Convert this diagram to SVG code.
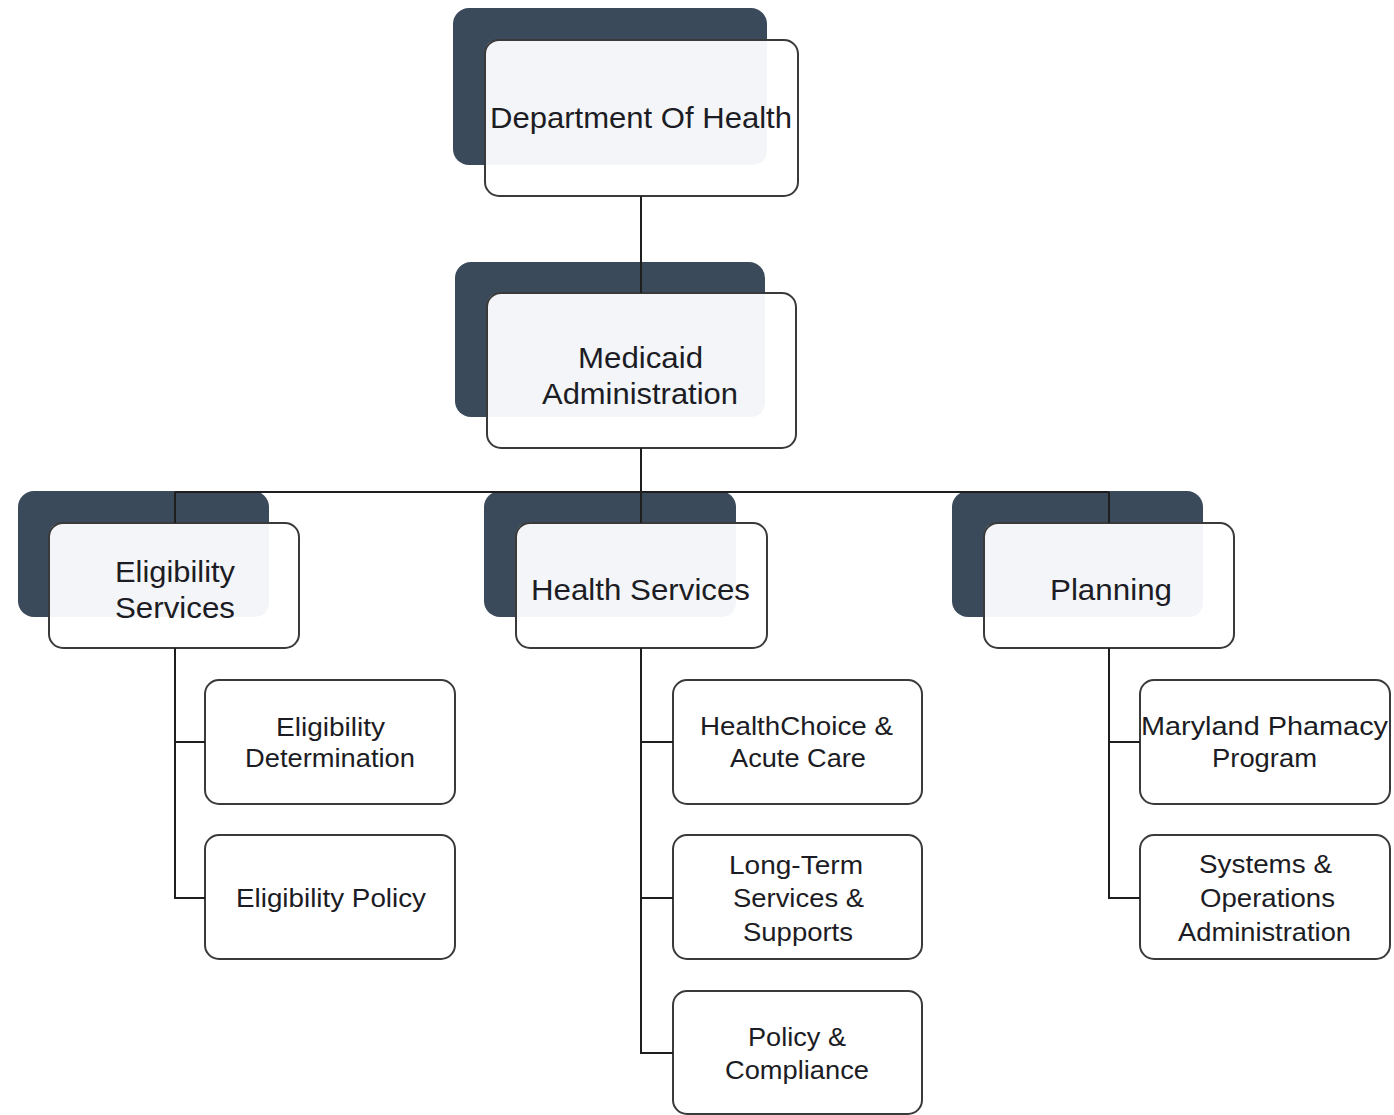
<svg xmlns="http://www.w3.org/2000/svg" width="1394" height="1115" viewBox="0 0 1394 1115">
<style>
.shadow{fill:#3b4a5b;}
.face{fill:#ffffff;}
.tint{fill:#f3f5f8;}
.edge{fill:none;stroke:#3a3a3a;stroke-width:2;}
.lbl{font-family:"Liberation Sans",Arial,sans-serif;fill:#1c1c24;text-anchor:middle;}
.big{font-size:30px;}
.small{font-size:26.5px;}
.conn{fill:none;stroke:#1e1e1e;stroke-width:2;}
</style>
<rect width="1394" height="1115" fill="#ffffff"/>

<g id="node-department">
<rect class="shadow" x="453" y="8" width="314" height="157" rx="16"/>
<rect class="face" x="485" y="40" width="313" height="156" rx="14"/>
<path class="tint" d="M499 40 H767 V149 Q767 165 751 165 H485 V54 Q485 40 499 40 Z"/>
<rect class="edge" x="485" y="40" width="313" height="156" rx="14"/>
<text class="lbl big" x="641" y="128" textLength="302" lengthAdjust="spacingAndGlyphs">Department Of Health</text>
</g>

<g id="node-medicaid">
<rect class="shadow" x="455" y="262" width="310" height="155" rx="16"/>
<rect class="face" x="487" y="293" width="309" height="155" rx="14"/>
<path class="tint" d="M501 293 H765 V401 Q765 417 749 417 H487 V307 Q487 293 501 293 Z"/>
<rect class="edge" x="487" y="293" width="309" height="155" rx="14"/>
<text class="lbl big" x="640.5" y="368" textLength="125" lengthAdjust="spacingAndGlyphs">Medicaid</text>
<text class="lbl big" x="640" y="404" textLength="196" lengthAdjust="spacingAndGlyphs">Administration</text>
</g>

<g id="node-eligibility-services">
<rect class="shadow" x="18" y="491" width="251" height="126" rx="16"/>
<rect class="face" x="49" y="523" width="250" height="125" rx="14"/>
<path class="tint" d="M63 523 H269 V601 Q269 617 253 617 H49 V537 Q49 523 63 523 Z"/>
<rect class="edge" x="49" y="523" width="250" height="125" rx="14"/>
<text class="lbl big" x="175" y="582" textLength="120" lengthAdjust="spacingAndGlyphs">Eligibility</text>
<text class="lbl big" x="175" y="618" textLength="120" lengthAdjust="spacingAndGlyphs">Services</text>
</g>

<g id="node-health-services">
<rect class="shadow" x="484" y="491" width="252" height="126" rx="16"/>
<rect class="face" x="516" y="523" width="251" height="125" rx="14"/>
<path class="tint" d="M530 523 H736 V601 Q736 617 720 617 H516 V537 Q516 523 530 523 Z"/>
<rect class="edge" x="516" y="523" width="251" height="125" rx="14"/>
<text class="lbl big" x="640.5" y="600" textLength="219" lengthAdjust="spacingAndGlyphs">Health Services</text>
</g>

<g id="node-planning">
<rect class="shadow" x="952" y="491" width="251" height="126" rx="16"/>
<rect class="face" x="984" y="523" width="250" height="125" rx="14"/>
<path class="tint" d="M998 523 H1203 V601 Q1203 617 1187 617 H984 V537 Q984 523 998 523 Z"/>
<rect class="edge" x="984" y="523" width="250" height="125" rx="14"/>
<text class="lbl big" x="1111" y="600" textLength="122" lengthAdjust="spacingAndGlyphs">Planning</text>
</g>

<g id="node-eligibility-determination">
<rect class="face edge" x="205" y="680" width="250" height="124" rx="14" style="fill:#fff"/>
<text class="lbl small" x="330.5" y="736" textLength="109" lengthAdjust="spacingAndGlyphs">Eligibility</text>
<text class="lbl small" x="330" y="767" textLength="170" lengthAdjust="spacingAndGlyphs">Determination</text>
</g>

<g id="node-eligibility-policy">
<rect class="face edge" x="205" y="835" width="250" height="124" rx="14" style="fill:#fff"/>
<text class="lbl small" x="331" y="907" textLength="190" lengthAdjust="spacingAndGlyphs">Eligibility Policy</text>
</g>

<g id="node-healthchoice">
<rect class="face edge" x="673" y="680" width="249" height="124" rx="14" style="fill:#fff"/>
<text class="lbl small" x="796.5" y="735" textLength="193" lengthAdjust="spacingAndGlyphs">HealthChoice &amp;</text>
<text class="lbl small" x="798" y="767" textLength="136" lengthAdjust="spacingAndGlyphs">Acute Care</text>
</g>

<g id="node-long-term">
<rect class="face edge" x="673" y="835" width="249" height="124" rx="14" style="fill:#fff"/>
<text class="lbl small" x="796" y="874" textLength="134" lengthAdjust="spacingAndGlyphs">Long-Term</text>
<text class="lbl small" x="798.5" y="907" textLength="131" lengthAdjust="spacingAndGlyphs">Services &amp;</text>
<text class="lbl small" x="798" y="941" textLength="110" lengthAdjust="spacingAndGlyphs">Supports</text>
</g>

<g id="node-policy-compliance">
<rect class="face edge" x="673" y="991" width="249" height="123" rx="14" style="fill:#fff"/>
<text class="lbl small" x="797" y="1046" textLength="98" lengthAdjust="spacingAndGlyphs">Policy &amp;</text>
<text class="lbl small" x="797" y="1079" textLength="144" lengthAdjust="spacingAndGlyphs">Compliance</text>
</g>

<g id="node-maryland-pharmacy">
<rect class="face edge" x="1140" y="680" width="250" height="124" rx="14" style="fill:#fff"/>
<text class="lbl small" x="1264.5" y="735" textLength="247" lengthAdjust="spacingAndGlyphs">Maryland Phamacy</text>
<text class="lbl small" x="1264.5" y="767" textLength="105" lengthAdjust="spacingAndGlyphs">Program</text>
</g>

<g id="node-systems-operations">
<rect class="face edge" x="1140" y="835" width="250" height="124" rx="14" style="fill:#fff"/>
<text class="lbl small" x="1265.5" y="873" textLength="133" lengthAdjust="spacingAndGlyphs">Systems &amp;</text>
<text class="lbl small" x="1267.5" y="907" textLength="135" lengthAdjust="spacingAndGlyphs">Operations</text>
<text class="lbl small" x="1264.5" y="941" textLength="173" lengthAdjust="spacingAndGlyphs">Administration</text>
</g>

<g id="connectors">
<path class="conn" d="M641 196 V293"/>
<path class="conn" d="M641 448 V523"/>
<path class="conn" d="M175 492 H1109"/>
<path class="conn" d="M175 492 V523"/>
<path class="conn" d="M1109 492 V523"/>
<path class="conn" d="M175 648 V898 H205"/>
<path class="conn" d="M175 742 H205"/>
<path class="conn" d="M641 648 V1053 H673"/>
<path class="conn" d="M641 742 H673"/>
<path class="conn" d="M641 898 H673"/>
<path class="conn" d="M1109 648 V898 H1140"/>
<path class="conn" d="M1109 742 H1140"/>
</g>
</svg>
